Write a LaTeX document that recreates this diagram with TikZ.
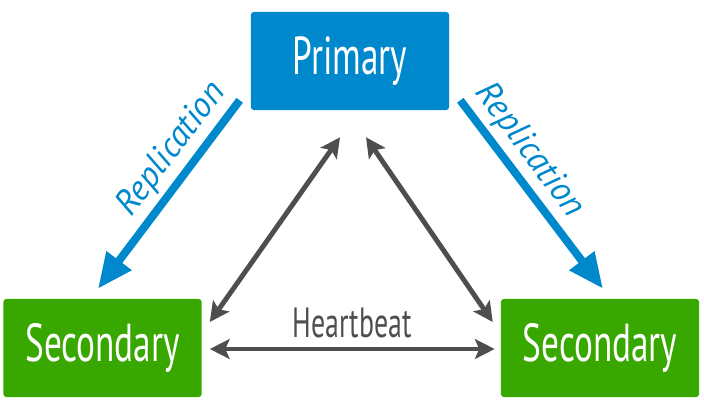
\documentclass[tikz,border=0pt]{standalone}
\usepackage{fontspec}
\usepackage{tikz}
\usetikzlibrary{calc,arrows.meta}

\newfontfamily\boxfont[FakeStretch=0.66]{PT Sans}
\newfontfamily\labelfont{PT Sans}

\definecolor{primblue}{RGB}{0,136,204}
\definecolor{secgreen}{RGB}{56,168,0}
\definecolor{beatgray}{RGB}{80,77,77}

\begin{document}
\begin{tikzpicture}[x=0.025cm,y=-0.025cm]
    \tikzstyle{box}=[rounded corners=2pt,minimum width=4.95cm,minimum height=2.45cm,inner sep=0pt,text=white,font=\boxfont\fontsize{38}{40}\selectfont]
    \tikzstyle{repl}=[primblue,line width=5.7pt,-{Triangle[length=25pt,width=21pt]}]
    \tikzstyle{beat}=[beatgray,line width=3.5pt,{Stealth[length=14pt,width=14pt,inset=3pt]}-{Stealth[length=14pt,width=14pt,inset=3pt]}]
    \tikzstyle{repltext}=[primblue,font=\labelfont\itshape\fontsize{25}{27}\selectfont]

    \useasboundingbox (0,0) rectangle (704,408);

    \node[box,fill=primblue] (primary) at (350,61) {Primary};
    \node[box,fill=secgreen] (secl) at (102.5,348) {Secondary};
    \node[box,fill=secgreen] (secr) at (600,348) {Secondary};

    % replication arrows
    \draw[repl] ($(primary.south west)+(-11,-10)$) -- ($(secl.north)+(-4.5,-10)$)
        node[repltext,pos=0.34,rotate=53,yshift=17.7pt] (repll) {Replication};
    \draw[repl] ($(primary.south east)+(11,-10)$) -- ($(secr.north)+(3,-10)$)
        node[repltext,pos=0.345,rotate=-53,yshift=17.5pt] (replr) {Replication};

    % heartbeat arrows
    \draw[beat] ($(primary.south)+(-10,27)$) -- ($(secl.east)+(8,-26)$);
    \draw[beat] ($(primary.south)+(16,27)$) -- ($(secr.west)+(-8,-26)$);
    \draw[beat] ($(secl.east)+(8,1)$) -- ($(secr.west)+(-6,1)$)
        node[midway,above=3pt,text=beatgray,font=\boxfont\fontsize{30}{32}\selectfont] (beat) {Heartbeat};

\end{tikzpicture}
\end{document}
